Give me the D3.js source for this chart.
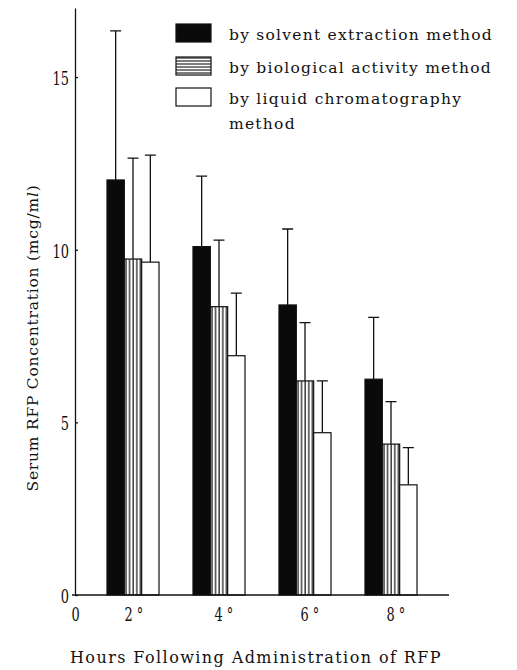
<!DOCTYPE html>
<html>
<head>
<meta charset="utf-8">
<script src="https://cdn.jsdelivr.net/npm/d3@7"></script>
<style>
  body { margin: 0; background: #fff; }
  svg text { font-family: "DejaVu Serif", serif; fill: #111; }
</style>
</head>
<body>
<div id="vis"></div>
<script>
// data
var hours = ["2", "4", "6", "8"];
var methods = ["solvent", "biological", "lc"];
var legendLabels = [["by solvent extraction method"], ["by biological activity method"], ["by liquid chromatography", "method"]];
var solventMean = [12.02, 10.09, 8.40, 6.25];
var solventSD   = [4.32, 2.04, 2.20, 1.79];
var bioMean     = [9.73, 8.35, 6.20, 4.37];
var bioSD       = [2.92, 1.93, 1.69, 1.23];
var lcMean      = [9.64, 6.93, 4.70, 3.19];
var lcSD        = [3.10, 1.81, 1.50, 1.08];
var yTicks = [0, 5, 10, 15];

var width = 517, height = 670;
var margin = {top: 8, left: 75, bottom: 75, right: 68};
var numScale = 0.72; // the printed numerals are narrow

var svg = d3.select("#vis").append("svg")
    .attr("width", width)
    .attr("height", height);

var defs = svg.append("defs");
var vp = defs.append("pattern").attr("id", "vstripe")
    .attr("patternUnits", "userSpaceOnUse").attr("width", 3.6).attr("height", 4);
vp.append("rect").attr("width", 3.6).attr("height", 4).attr("fill", "#fff");
vp.append("line").attr("x1", 1).attr("x2", 1).attr("y1", 0).attr("y2", 4)
    .attr("stroke", "#111").attr("stroke-width", 1.2);
var hp = defs.append("pattern").attr("id", "hstripe")
    .attr("patternUnits", "userSpaceOnUse").attr("width", 4).attr("height", 3);
hp.append("rect").attr("width", 4).attr("height", 3).attr("fill", "#fff");
hp.append("line").attr("x1", 0).attr("x2", 4).attr("y1", 1).attr("y2", 1)
    .attr("stroke", "#111").attr("stroke-width", 1.1);

var fills = {solvent: "#0a0a0a", biological: "url(#vstripe)", lc: "#fff"};
var legendFills = {solvent: "#0a0a0a", biological: "url(#hstripe)", lc: "#fff"};

var y = d3.scaleLinear().domain([0, 17]).range([595, margin.top]);

var x = d3.scaleBand().domain(hours)
    .range([margin.left, 449])
    .paddingInner(0.395)
    .paddingOuter(0.372);

var xm = d3.scaleBand().domain(methods).range([0, x.bandwidth()]);

var rows = hours.map(function(h, i) {
    return {hour: h, values: [
        {method: "solvent", mean: solventMean[i], sd: solventSD[i]},
        {method: "biological", mean: bioMean[i], sd: bioSD[i]},
        {method: "lc", mean: lcMean[i], sd: lcSD[i]}
    ]};
});

var groups = svg.append("g").selectAll("g")
    .data(rows)
    .enter().append("g")
    .attr("transform", function(d) { return "translate(" + x(d.hour) + ",0)"; });

// error bars (upper only)
groups.selectAll(".err")
    .data(function(d) { return d.values; })
    .enter().append("path")
    .attr("class", "err")
    .attr("fill", "none")
    .attr("stroke", "#111")
    .attr("stroke-width", 1.3)
    .attr("d", function(d) {
        var cx = xm(d.method) + xm.bandwidth() / 2;
        var top = y(d.mean + d.sd);
        return "M" + cx + "," + y(d.mean) + "V" + top + "M" + (cx - 5.5) + "," + top + "H" + (cx + 5.5);
    });

groups.selectAll("rect")
    .data(function(d) { return d.values; })
    .enter().append("rect")
    .attr("x", function(d) { return xm(d.method); })
    .attr("y", function(d) { return y(d.mean); })
    .attr("width", xm.bandwidth())
    .attr("height", function(d) { return y(0) - y(d.mean); })
    .attr("fill", function(d) { return fills[d.method]; })
    .attr("stroke", "#111")
    .attr("stroke-width", 1.2);

// y axis, ticks point inward
var yAxis = d3.axisLeft(y).tickValues(yTicks).tickSize(-3).tickSizeOuter(0).tickPadding(6);
var gy = svg.append("g").attr("transform", "translate(" + margin.left + ",0)").call(yAxis);
gy.attr("font-family", null).attr("font-size", null);
gy.selectAll("path, line").attr("stroke", "#111").attr("stroke-width", 1.3);
gy.selectAll("text")
    .style("font-size", "18px")
    .attr("x", -6 / numScale)
    .attr("dy", "0.42em")
    .attr("transform", "scale(" + numScale + ",1)");

// x axis baseline
svg.append("line")
    .attr("x1", 72).attr("x2", 449)
    .attr("y1", y(0)).attr("y2", y(0))
    .attr("stroke", "#111").attr("stroke-width", 1.3);

svg.append("g")
    .attr("transform", "translate(" + (margin.left + 0.5) + ",621)")
    .append("text")
    .attr("transform", "scale(" + numScale + ",1)")
    .attr("text-anchor", "middle")
    .style("font-size", "18px")
    .text("0");

svg.append("g").selectAll("g")
    .data(hours)
    .enter().append("g")
    .attr("transform", function(d, i) {
        return "translate(" + (x(d) + x.bandwidth() / 2 - (i === 0 ? 8.5 : 4.5)) + ",621)";
    })
    .append("text")
    .attr("transform", "scale(" + numScale + ",1)")
    .style("font-size", "18px")
    .text(function(d) { return d + " °"; });

// stretch a text to a target width with letter-spacing
function fitWidth(sel, target) {
    var node = sel.node();
    var n = node.textContent.length;
    var w = node.getComputedTextLength();
    sel.style("letter-spacing", ((target - w) / n) + "px");
}

// axis titles
var xt = svg.append("text")
    .attr("x", 256).attr("y", 663)
    .attr("text-anchor", "middle")
    .style("font-size", "16px")
    .text("Hours Following Administration of RFP");
fitWidth(xt, 372);

var yt = svg.append("text")
    .attr("transform", "translate(38,338) rotate(-90)")
    .attr("text-anchor", "middle")
    .style("font-size", "15.5px");
yt.append("tspan").text("Serum RFP Concentration (mcg/m");
yt.append("tspan").style("font-style", "italic").text("l");
yt.append("tspan").text(")");
fitWidth(yt, 307);

// legend
var lg = svg.append("g").attr("transform", "translate(176,0)");
var lrow = lg.selectAll("g")
    .data(methods)
    .enter().append("g")
    .attr("transform", function(d, i) { return "translate(0," + [24, 57, 88][i] + ")"; });
lrow.append("rect")
    .attr("width", 35).attr("height", 18)
    .attr("fill", function(d) { return legendFills[d]; })
    .attr("stroke", "#111").attr("stroke-width", 1.2);
var lt = lrow.append("text")
    .attr("x", 53).attr("y", 16)
    .style("font-size", "15.5px");
lt.selectAll("tspan")
    .data(function(d, i) { return legendLabels[i]; })
    .enter().append("tspan")
    .attr("x", 53)
    .attr("dy", function(d, j) { return j === 0 ? 0 : 25; })
    .text(function(d) { return d; });
fitWidth(d3.select(lt.nodes()[0]), 264);
lt.style("letter-spacing", d3.select(lt.nodes()[0]).style("letter-spacing"));
</script>
</body>
</html>
